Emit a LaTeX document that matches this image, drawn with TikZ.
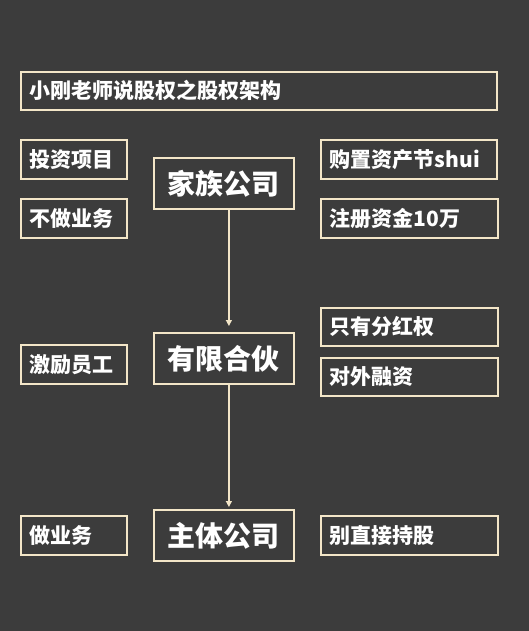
\documentclass[tikz,border=0pt]{standalone}
\usepackage{fontspec}
\newfontfamily\cjk{Noto Sans CJK SC}
\usetikzlibrary{arrows.meta}
\definecolor{bg}{HTML}{3C3C3C}
\definecolor{edge}{HTML}{F3E6C8}
\tikzset{
  x=1pt,y=-1pt,
  box/.style={draw=edge,line width=1.8pt,anchor=north west,inner xsep=9pt,inner ysep=0pt,
    align=left,text=white,font=\cjk\bfseries\fontsize{21}{24}\selectfont},
  bigbox/.style={draw=edge,line width=1.8pt,anchor=north west,inner sep=0pt,
    minimum width=140pt,minimum height=51pt,text=white,font=\cjk\bfseries\fontsize{28}{31}\selectfont},
  conn/.style={draw=edge,line width=1.2pt,-{Triangle[length=6pt,width=6pt]}}
}
\begin{document}
\begin{tikzpicture}
\fill[bg] (0,0) rectangle (529,631);
\useasboundingbox (0,0) rectangle (529,631);
\node[box,text width=458pt,minimum height=38pt] (title) at (20,71) {小刚老师说股权之股权架构};
\node[box,text width=88pt,minimum height=39pt] (l1) at (20,139) {投资项目};
\node[box,text width=88pt,minimum height=39pt] (l2) at (20,198) {不做业务};
\node[box,text width=88pt,minimum height=39pt] (l3) at (20,344) {激励员工};
\node[box,text width=88pt,minimum height=39pt] (l4) at (20,515) {做业务};
\node[box,text width=158pt,minimum height=39pt] (r1) at (320,139) {购置资产节shui};
\node[box,text width=159pt,minimum height=39pt] (r2) at (320,198) {注册资金10万};
\node[box,text width=159pt,minimum height=38pt] (r3) at (320,307) {只有分红权};
\node[box,text width=159pt,minimum height=38pt] (r4) at (320,357) {对外融资};
\node[box,text width=159pt,minimum height=39pt] (r5) at (320,515) {别直接持股};
\node[bigbox] (c1) at (153,157) {家族公司};
\node[bigbox] (c2) at (153,332) {有限合伙};
\node[bigbox] (c3) at (153,509) {主体公司};
\draw[conn] ([xshift=5pt]c1.south) -- ([xshift=5pt,yshift=6pt]c2.north);
\draw[conn] ([xshift=5pt]c2.south) -- ([xshift=5pt,yshift=2pt]c3.north);
\end{tikzpicture}
\end{document}
